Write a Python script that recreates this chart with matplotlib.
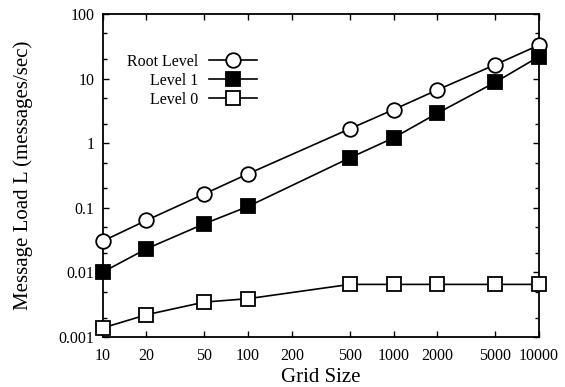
import matplotlib
matplotlib.use("Agg")
import matplotlib.pyplot as plt
from matplotlib.ticker import FixedLocator, FixedFormatter, NullLocator

grid_size = [10, 20, 50, 100, 500, 1000, 2000, 5000, 10000]
root_level = [0.0305, 0.064, 0.164, 0.336, 1.67, 3.31, 6.68, 16.4, 33.0]
level_1 = [0.0101, 0.0232, 0.0566, 0.105, 0.593, 1.21, 2.91, 8.77, 21.9]
level_0 = [0.00138, 0.00221, 0.00347, 0.00392, 0.00652, 0.00652, 0.00652, 0.00652, 0.00652]

x_ticks = [10, 20, 50, 100, 200, 500, 1000, 2000, 5000, 10000]
x_tick_labels = ["10", "20", "50", "100", "200", "500", "1000", "2000", "5000", "10000"]
y_ticks = [0.001, 0.01, 0.1, 1, 10, 100]
y_tick_labels = ["0.001", "0.01", "0.1", "1", "10", "100"]
y_minor = [m * 10.0 ** e for e in range(-3, 2) for m in (2, 5)]

plt.rcParams['font.family'] = ['Liberation Serif', 'DejaVu Serif']

fig = plt.figure(figsize=(5.65, 3.87), dpi=100)
ax = fig.add_axes([102.7 / 565, 1 - 337 / 387, (539 - 102.7) / 565, (337 - 14) / 387])

lw = 1.2
common = dict(color='black', lw=lw, markeredgecolor='black', markeredgewidth=1.3, clip_on=False, zorder=3)
ax.plot(grid_size, root_level, marker='o', markersize=10.5, markerfacecolor='white',
        label='Root Level', **common)
ax.plot(grid_size, level_1, marker='s', markersize=9.5, markerfacecolor='black',
        label='Level 1', **common)
ax.plot(grid_size, level_0, marker='s', markersize=9.5, markerfacecolor='white',
        label='Level 0', **common)

ax.set_xscale('log')
ax.set_yscale('log')
ax.set_xlim(10, 10000)
ax.set_ylim(0.001, 100)

ax.xaxis.set_major_locator(FixedLocator(x_ticks))
ax.xaxis.set_major_formatter(FixedFormatter(x_tick_labels))
ax.xaxis.set_minor_locator(NullLocator())
ax.yaxis.set_major_locator(FixedLocator(y_ticks))
ax.yaxis.set_major_formatter(FixedFormatter(y_tick_labels))
ax.yaxis.set_minor_locator(FixedLocator(y_minor))
ax.yaxis.set_minor_formatter(FixedFormatter([]))

ax.tick_params(which='both', direction='in', top=True, right=True, width=1.0, labelsize=11.5)
ax.tick_params(which='major', length=4.5)
ax.tick_params(axis='x', which='major', pad=8)
ax.tick_params(axis='y', which='major', pad=6)
ax.tick_params(which='minor', length=3)
for s in ax.spines.values():
    s.set_linewidth(1.3)
    s.set_zorder(1)

ax.set_xlabel('Grid Size', fontsize=15, labelpad=3)
ax.set_ylabel('Message Load L (messages/sec)', fontsize=15, labelpad=18)

leg = ax.legend(markerfirst=False, frameon=False, loc='upper right',
                bbox_to_anchor=(257 / 565, 1 - 54 / 387), bbox_transform=fig.transFigure,
                borderpad=0, borderaxespad=0, handlelength=3.0, handletextpad=0.7,
                labelspacing=0.18, fontsize=11.5)

fig.savefig('out.png', dpi=100)
